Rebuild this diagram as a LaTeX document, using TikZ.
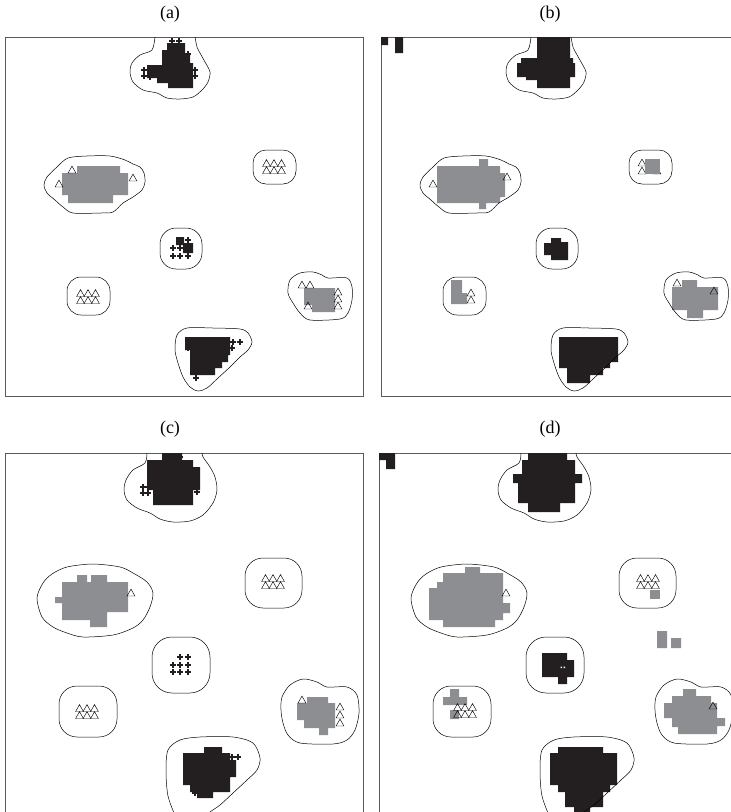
\documentclass[tikz,border=0pt]{standalone}
\usepackage{fontspec}
\setmainfont{Liberation Serif}
\usepackage{tikz}
\definecolor{inkblack}{HTML}{231F20}
\definecolor{blobgray}{HTML}{8D8E92}
\definecolor{framegray}{HTML}{5A5A5A}
% triangle cluster: two rows of three
\newcommand{\tris}[2]{%
  \foreach \dx in {-7.5,0,7.5} {\pic at ({#1+\dx},{#2-3.5}) {tri}; \pic at ({#1+\dx},{#2+3.5}) {tri};}}
% contours shared by (a) and (b)
\newcommand{\contoursab}{%
  \draw[contour] plot[smooth] coordinates {(155,37) (152,50) (140,55) (132,63) (130,72) (133,82) (143,90) (157,93) (167,98) (180,99) (193,97) (202,90) (208,82) (210,72) (205,62) (200,53) (197,47) (195,37)};
  \draw[contour] plot[smooth cycle] coordinates {(47,177) (57,167) (68,158) (87,156) (110,156) (125,160) (133,164) (140,167) (144,173) (145,182) (142,190) (133,197) (123,203) (113,212) (100,213) (73,213) (63,207) (55,200) (47,193) (44,185)};
  \draw[contour, rounded corners=13pt] (253,150) rectangle (296,184);
  \draw[contour, rounded corners=16pt] (160,228) rectangle (202,269);
  \draw[contour, rounded corners=14pt] (67,277) rectangle (110,315);
  \draw[contour] plot[smooth cycle] coordinates {(290,280) (300,273) (313,272) (322,275) (328,278) (347,278) (352,287) (352,300) (348,313) (340,319) (310,320) (300,313) (293,303) (288,293)};
  \draw[contour] plot[smooth cycle] coordinates {(177,335) (187,328) (213,328) (240,329) (248,333) (252,342) (248,350) (240,357) (230,367) (218,378) (207,388) (198,391) (190,387) (183,377) (178,363) (175,350)};}
% contours shared by (c) and (d)
\newcommand{\contourscd}{%
  \draw[contour] plot[smooth] coordinates {(147,37) (145,47) (133,54) (126,64) (124,74) (127,84) (137,92) (150,97) (160,103) (173,106) (190,105) (203,99) (213,87) (217,74) (215,61) (210,51) (203,41) (202,37)};
  \draw[contour] plot[smooth cycle] coordinates {(37,182) (43,167) (52,158) (67,151) (93,148) (120,151) (133,157) (147,166) (153,177) (150,191) (143,204) (133,212) (113,219) (83,221) (67,217) (53,211) (42,201)};
  \draw[contour, rounded corners=18pt] (245,142) rectangle (302,192);
  \draw[contour, rounded corners=20pt] (152,221) rectangle (210,277);
  \draw[contour, rounded corners=18pt] (59,270) rectangle (117,321);
  \draw[contour] plot[smooth cycle] coordinates {(282,281) (290,269) (303,263) (317,266) (327,271) (347,271) (357,279) (359,297) (355,314) (347,324) (333,328) (300,327) (288,319) (283,307) (281,294)};
  \draw[contour] plot[smooth] coordinates {(176,402) (168,380) (166,355) (168,334) (180,324) (200,321) (233,321) (253,327) (260,342) (257,354) (247,364) (233,377) (220,389) (210,396) (204,402)};}

\begin{document}
\begin{tikzpicture}[x=1pt, y=-1pt,
  panelframe/.style={draw=framegray, line width=0.8pt},
  contour/.style={draw=black, line width=0.5pt},
  darkblob/.style={fill=inkblack},
  greyblob/.style={fill=blobgray},
  panellabel/.style={font=\fontsize{18}{20}\selectfont, inner sep=0pt},
  tri/.pic={\draw[line width=0.45pt] (-3.9,3) -- (3.9,3) -- (0,-3.9) -- cycle;},
  plusmark/.pic={\draw[line width=1.1pt, inkblack] (-2.6,0) -- (2.6,0) (0,-2.6) -- (0,2.6);},
]
\useasboundingbox (0,0) rectangle (731,812);
\clip (0,0) rectangle (731,812);

% --- labels ---
\node[panellabel] (la) at (170,14) {(a)};
\node[panellabel] (lb) at (550,14) {(b)};
\node[panellabel] (lc) at (170,429) {(c)};
\node[panellabel] (ld) at (550,429) {(d)};

% --- (a) ---
\draw[panelframe] (5,37) rectangle (363,396);
\fill[darkblob] (167,43) -- (185,43) -- (185,55) -- (190,55) -- (190,63) -- (193,63) -- (193,88) -- (168,88) -- (168,83) -- (157,83) -- (157,78) -- (147,78) -- (147,65) -- (162,65) -- (162,50) -- (167,50) -- cycle;
\foreach \p in {(172,41),(179,41),(188,54),(144,70),(144,76),(150,77),(195,70),(195,76)} \pic at \p {plusmark};
\fill[greyblob] (62,173) rectangle (128,195) (77,166) rectangle (120,173) (68,195) rectangle (113,203);
\foreach \p in {(72,170),(59,184),(133,178)} \pic at \p {tri};
\tris{274}{167}
\fill[darkblob] (176,237) rectangle (184,245) (183,243) rectangle (193,253);
\foreach \p in {(173,248),(173,256),(180,256),(188,256),(180,248),(188,240)} \pic at \p {plusmark};
\tris{88}{297}
\fill[greyblob] (304,288) -- (335,288) -- (335,312) -- (312,312) -- (312,305) -- (304,305) -- cycle;
\foreach \p in {(302,285),(310,285),(338,292),(338,299),(338,306),(308,306)} \pic at \p {tri};
\fill[darkblob] (185,337) -- (230,337) -- (230,355) -- (228,355) -- (228,362) -- (222,362) -- (222,368) -- (215,368) -- (215,375) -- (190,375) -- (190,350) -- (185,350) -- cycle;
\foreach \p in {(233,342),(240,342),(232,348),(188,340),(188,348),(196,378)} \pic at \p {plusmark};
\contoursab

% --- (b) ---
\begin{scope}[shift={(376,0)}]
\draw[panelframe] (355,37) -- (5,37) -- (5,396) -- (355,396);
\fill[darkblob] (5,37) rectangle (12,45) (19,37) rectangle (27,53);
\fill[darkblob] (161,37) -- (194,37) -- (194,58) -- (197,58) -- (197,63) -- (199,63) -- (199,77) -- (194,77) -- (194,88) -- (161,88) -- (161,80) -- (150,80) -- (150,77) -- (141,77) -- (141,63) -- (145,63) -- (145,58) -- (161,58) -- cycle;
\fill[greyblob] (61,166) rectangle (124,203) (103,159) rectangle (112,166) (124,173) rectangle (129,197) (103,203) rectangle (110,209);
\foreach \p in {(57,184),(131,177)} \pic at \p {tri};
\foreach \p in {(266,163),(266,171),(281,171)} \pic at \p {tri};
\fill[greyblob] (269,159) rectangle (284,174);
\fill[darkblob] (175,238) -- (185,238) -- (185,242) -- (192,242) -- (192,260) -- (175,260) -- (175,255) -- (168,255) -- (168,243) -- (175,243) -- cycle;
\fill[greyblob] (75,280) rectangle (86,304) (86,293) rectangle (91,304);
\foreach \p in {(95,293),(95,300)} \pic at \p {tri};
\fill[greyblob] (306,280) rectangle (321,287) (296,287) rectangle (342,310) (311,310) rectangle (327,318);
\foreach \p in {(301,283),(338,291)} \pic at \p {tri};
\fill[darkblob] (183,337) rectangle (242,362) (183,362) rectangle (234,368) (191,368) rectangle (227,375) (191,375) rectangle (214,383);
\contoursab
\end{scope}

% --- (c) ---
\begin{scope}[shift={(0,416)}]
\draw[panelframe] (5,400) -- (5,37) -- (363,37) -- (363,400);
\fill[darkblob] (162,37) rectangle (182,44) (147,44) rectangle (193,51) (147,51) rectangle (200,74) (153,74) rectangle (193,89);
\foreach \p in {(143,71),(143,77),(148,71),(148,77),(180,41),(197,76)} \pic at \p {plusmark};
\fill[greyblob] (62,166) rectangle (128,196) (77,159) rectangle (87,166) (91,159) rectangle (107,166) (62,196) rectangle (107,204) (90,204) rectangle (107,211) (55,181) rectangle (62,187);
\pic at (131,177) {tri};
\tris{273}{166}
\foreach \p in {(180,241),(188,241),(173,249),(180,249),(188,249),(173,256),(180,256),(188,256)} \pic at \p {plusmark};
\tris{87}{296}
\fill[greyblob] (307,281) rectangle (328,287) (297,287) rectangle (335,304) (304,304) rectangle (335,312) (319,312) rectangle (328,319);
\foreach \p in {(340,291),(340,299),(340,307),(302,284)} \pic at \p {tri};
\fill[darkblob] (204,331) rectangle (222,337) (183,337) rectangle (230,344) (183,344) rectangle (236,361) (183,361) rectangle (230,369) (190,369) rectangle (230,376) (197,376) rectangle (213,382);
\foreach \p in {(232,341),(238,341),(195,377)} \pic at \p {plusmark};
\contourscd
\end{scope}

% --- (d) ---
\begin{scope}[shift={(374,416)}]
\draw[panelframe] (5,400) -- (5,37) -- (357,37);
\fill[darkblob] (5,37) rectangle (21,44) (12,44) rectangle (21,53);
\fill[darkblob] (154,37) rectangle (193,44) (148,44) rectangle (201,58) (139,58) rectangle (208,67) (144,67) rectangle (201,87) (154,87) rectangle (186,96);
\fill[greyblob] (91,151) rectangle (106,157) (69,157) rectangle (129,166) (63,166) rectangle (129,172) (55,172) rectangle (129,204) (129,187) rectangle (136,197) (69,204) rectangle (121,211);
\pic at (132,177) {tri};
\tris{274}{166}
\fill[greyblob] (276,174) rectangle (286,183);
\fill[greyblob] (283,215) rectangle (293,232) (297,222) rectangle (307,232);
\fill[darkblob] (168,237) rectangle (193,261) (193,244) rectangle (200,261) (184,261) rectangle (193,268);
\fill[white] (186.5,250.5) rectangle (188,252) (189.5,250.5) rectangle (191,252);
\fill[greyblob] (76,273) rectangle (85,281) (69,281) rectangle (93,289) (76,294) rectangle (85,303);
\tris{91}{295}
\fill[greyblob] (309,273) rectangle (322,280) (298,280) rectangle (337,287) (290,287) rectangle (343,302) (343,302) rectangle (351,310) (298,302) rectangle (343,311) (304,311) rectangle (343,318);
\pic at (339,290) {tri};
\fill[darkblob] (184,331) rectangle (229,337) (176,337) rectangle (243,369) (184,369) rectangle (236,376) (191,376) rectangle (229,391) (200,391) rectangle (216,396);
\contourscd
\end{scope}
\end{tikzpicture}
\end{document}
